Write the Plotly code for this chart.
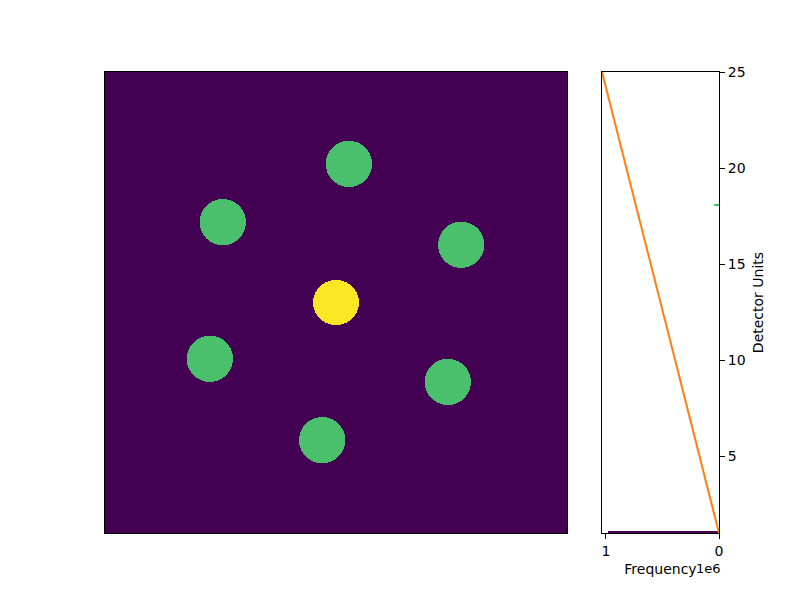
import numpy as np
import plotly.graph_objects as go
from plotly.colors import sample_colorscale

# ---- data ----
# image: background level, circle centres (fraction of image width/height, y from top), radii, levels
image_size = 462
background_level = 1
circle_cx = [0.500, 0.528, 0.255, 0.771, 0.227, 0.742, 0.470]
circle_cy = [0.500, 0.199, 0.325, 0.374, 0.623, 0.673, 0.799]
circle_r = [0.050, 0.050, 0.050, 0.050, 0.050, 0.050, 0.050]
circle_level = [25, 18, 18, 18, 18, 18, 18]

# histogram of detector units
hist_levels = [1, 18, 25]
hist_counts = [986000, 48000, 8000]
hist_bin_width = 0.12

# straight reference line in histogram panel
line_freq = [1.035e6, 0]
line_units = [25, 1]

vmin, vmax = 1, 25

# ---- build image ----
yy, xx = np.mgrid[0:image_size, 0:image_size]
z = np.full((image_size, image_size), background_level, dtype=int)
for cx, cy, r, lv in zip(circle_cx, circle_cy, circle_r, circle_level):
    mask = (xx + 0.5 - cx * image_size) ** 2 + (yy + 0.5 - cy * image_size) ** 2 <= (r * image_size) ** 2
    z[mask] = lv

bar_colors = sample_colorscale("Viridis", [(v - vmin) / (vmax - vmin) for v in hist_levels])

font = dict(family="DejaVu Sans", size=14, color="black")

W, H, OFF = 800, 600, 8  # page offset of the plot div


def fx(px):
    return (px - OFF) / W


def fy(py):
    return 1 - (py - OFF) / H


fig = go.Figure()
fig.add_trace(go.Heatmap(z=z.tolist(), colorscale="Viridis", zmin=vmin, zmax=vmax,
                         showscale=False, zsmooth=False, hoverinfo="skip",
                         xaxis="x", yaxis="y"))
fig.add_trace(go.Bar(y=hist_levels, x=hist_counts, orientation="h", width=hist_bin_width,
                     offset=0, marker=dict(color=bar_colors, line=dict(width=0)),
                     xaxis="x2", yaxis="y2", showlegend=False))
fig.add_trace(go.Scatter(x=line_freq, y=line_units, mode="lines",
                         line=dict(color="#ff7f0e", width=2),
                         xaxis="x2", yaxis="y2", showlegend=False))

fig.update_layout(
    width=W, height=H,
    margin=dict(l=0, r=0, t=0, b=0, autoexpand=False),
    paper_bgcolor="white", plot_bgcolor="white",
    font=font, showlegend=False,
    xaxis=dict(domain=[fx(105), fx(567)], range=[-0.5, image_size - 0.5], automargin=False,
               showticklabels=False, ticks="", showgrid=False, zeroline=False,
               showline=True, linecolor="black", linewidth=1, mirror=True),
    yaxis=dict(domain=[fy(533), fy(72)], range=[image_size - 0.5, -0.5], automargin=False,
               showticklabels=False, ticks="", showgrid=False, zeroline=False,
               showline=True, linecolor="black", linewidth=1, mirror=True),
    xaxis2=dict(domain=[fx(602), fx(719)], anchor="y2", range=[1.035e6, 0], automargin=False,
                tickvals=[0, 1e6], ticktext=["0", "1"],
                ticks="outside", ticklen=5, tickcolor="black",
                showgrid=False, zeroline=False,
                showline=True, linecolor="black", linewidth=1, mirror=True,
                title=dict(text="Frequency", font=font, standoff=6)),
    yaxis2=dict(domain=[fy(533), fy(72)], anchor="x2", side="right", range=[1, 25], automargin=False,
                tickvals=[5, 10, 15, 20, 25],
                ticks="outside", ticklen=5, tickcolor="black",
                showgrid=False, zeroline=False,
                showline=True, linecolor="black", linewidth=1, mirror=True,
                title=dict(text="Detector Units", font=font, standoff=8)),
    bargap=0,
)
fig.add_annotation(text="1e6", xref="paper", yref="paper", x=fx(722), y=fy(568),
                   xanchor="right", yanchor="middle", showarrow=False, borderpad=0,
                   font=dict(family="DejaVu Sans", size=13, color="black"))

fig.write_html("out.html")
